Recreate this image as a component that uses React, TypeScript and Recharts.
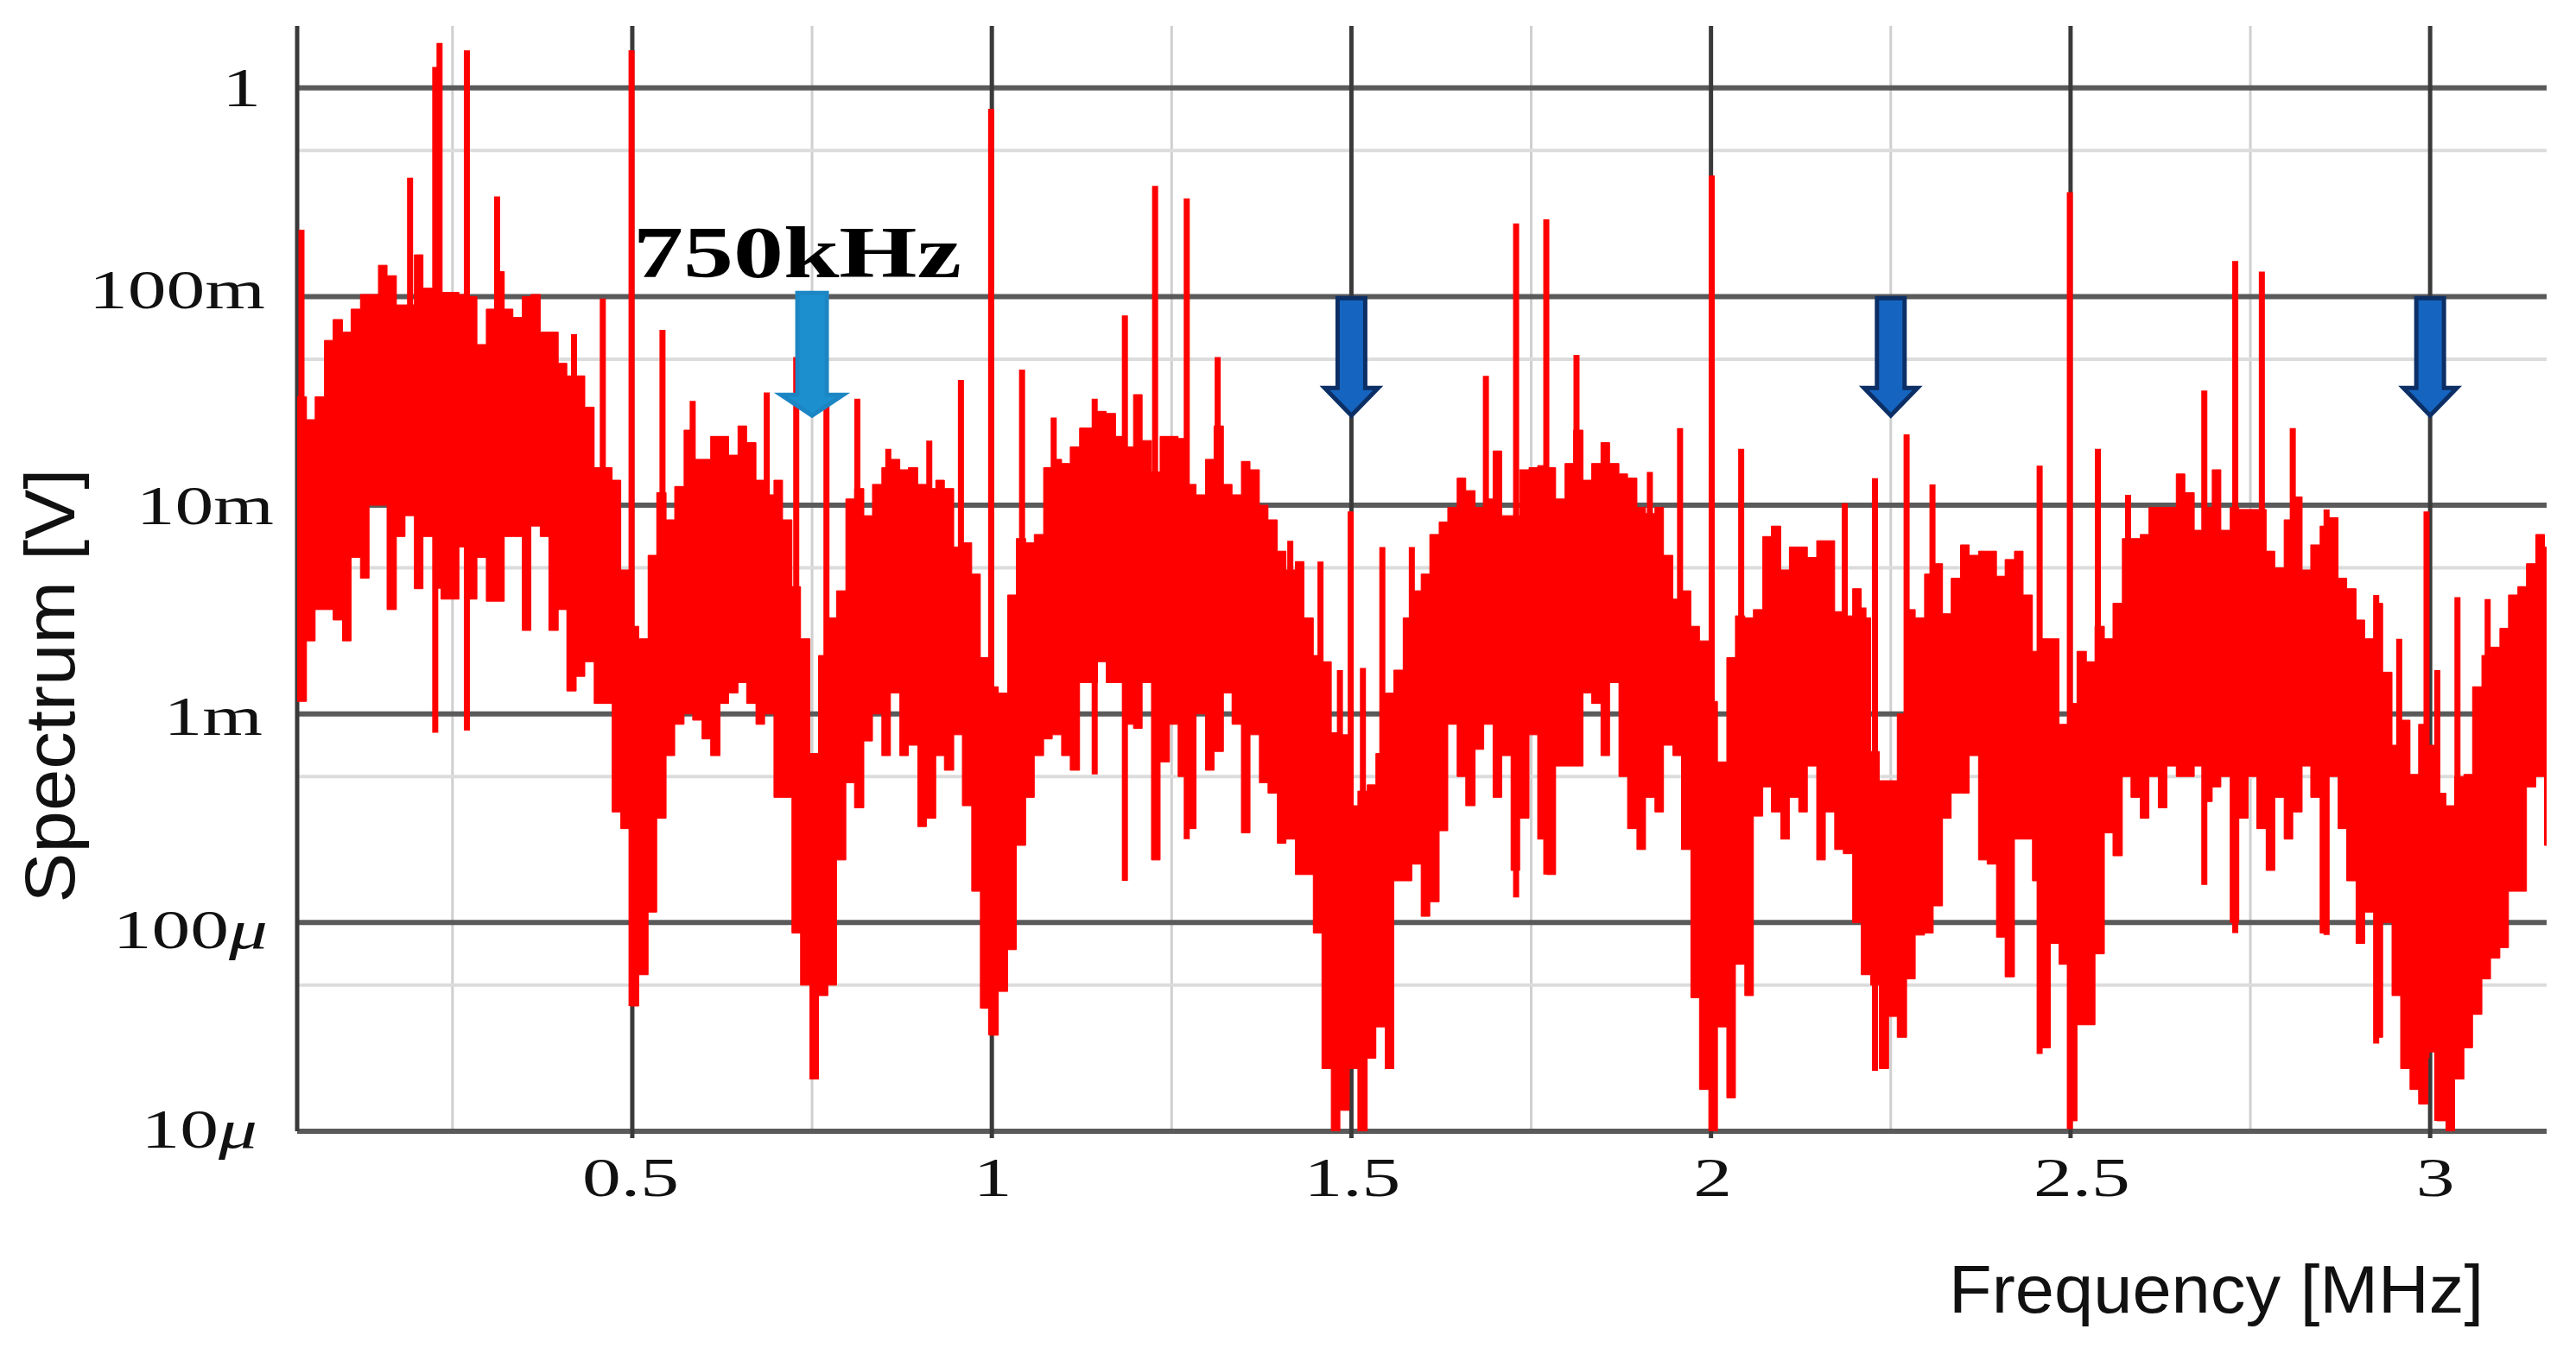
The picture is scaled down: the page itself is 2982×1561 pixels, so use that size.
import { Area, CartesianGrid, ComposedChart, Line, Scatter, XAxis, YAxis } from 'recharts';

// all levels are log10(V): 0 is 1 V, -3 is 1 mV, -5 is 10 uV
const yTicks = [0, -1, -2, -3, -4, -5];
const yTickLabels = ['1', '100m', '10m', '1m', '100μ', '10μ'];
const yMinorLines = [-0.3, -1.3, -2.3, -3.3, -4.3];
const xTicks = [0.5, 1, 1.5, 2, 2.5, 3];
const xTickLabels = ['0.5', '1', '1.5', '2', '2.5', '3'];
const xMajorLines = [0.034, 0.5, 1, 1.5, 2, 2.5, 3];
const xMinorLines = [0.25, 0.75, 1.25, 1.75, 2.25, 2.75];

// noise band, one step per column
const bandFreqs = [
  0.034, 0.047, 0.059, 0.072, 0.084, 0.097, 0.109, 0.122, 0.134, 0.147,
  0.159, 0.172, 0.184, 0.197, 0.209, 0.222, 0.234, 0.247, 0.259, 0.272,
  0.284, 0.297, 0.309, 0.322, 0.334, 0.347, 0.359, 0.372, 0.384, 0.397,
  0.409, 0.422, 0.434, 0.447, 0.459, 0.472, 0.484, 0.497, 0.509, 0.522,
  0.534, 0.547, 0.559, 0.572, 0.584, 0.597, 0.609, 0.622, 0.634, 0.647,
  0.659, 0.672, 0.684, 0.697, 0.709, 0.722, 0.734, 0.747, 0.759, 0.772,
  0.784, 0.797, 0.809, 0.822, 0.834, 0.847, 0.859, 0.872, 0.884, 0.897,
  0.909, 0.922, 0.934, 0.947, 0.959, 0.972, 0.984, 0.997, 1.009, 1.022,
  1.034, 1.047, 1.059, 1.072, 1.084, 1.097, 1.109, 1.122, 1.134, 1.147,
  1.159, 1.172, 1.184, 1.197, 1.209, 1.222, 1.234, 1.247, 1.259, 1.272,
  1.284, 1.297, 1.309, 1.322, 1.334, 1.347, 1.359, 1.372, 1.384, 1.397,
  1.409, 1.422, 1.434, 1.447, 1.459, 1.472, 1.484, 1.497, 1.509, 1.522,
  1.534, 1.547, 1.559, 1.572, 1.584, 1.597, 1.609, 1.622, 1.634, 1.647,
  1.659, 1.672, 1.684, 1.697, 1.709, 1.722, 1.734, 1.747, 1.759, 1.772,
  1.784, 1.797, 1.809, 1.822, 1.834, 1.847, 1.859, 1.872, 1.884, 1.897,
  1.909, 1.922, 1.934, 1.947, 1.959, 1.972, 1.984, 1.997, 2.009, 2.022,
  2.034, 2.047, 2.059, 2.072, 2.084, 2.097, 2.109, 2.122, 2.134, 2.147,
  2.159, 2.172, 2.184, 2.197, 2.209, 2.222, 2.234, 2.247, 2.259, 2.272,
  2.284, 2.297, 2.309, 2.322, 2.334, 2.347, 2.359, 2.372, 2.384, 2.397,
  2.409, 2.422, 2.434, 2.447, 2.459, 2.472, 2.484, 2.497, 2.509, 2.522,
  2.534, 2.547, 2.559, 2.572, 2.584, 2.597, 2.609, 2.622, 2.634, 2.647,
  2.659, 2.672, 2.684, 2.697, 2.709, 2.722, 2.734, 2.747, 2.759, 2.772,
  2.784, 2.797, 2.809, 2.822, 2.834, 2.847, 2.859, 2.872, 2.884, 2.897,
  2.909, 2.922, 2.934, 2.947, 2.959, 2.972, 2.984, 2.997, 3.009, 3.022,
  3.034, 3.047, 3.059, 3.072, 3.084, 3.097, 3.109, 3.122, 3.134, 3.147,
  3.159, 3.162,
];
const bandHighs = [
  -1.48, -1.59, -1.48, -1.21, -1.11, -1.17, -1.06, -0.99, -0.99, -0.85,
  -0.9, -1.04, -1.04, -0.8, -0.96, -1.17, -0.98, -0.98, -0.99, -1.0,
  -1.23, -1.06, -0.88, -1.06, -1.1, -1.0, -0.99, -1.17, -1.17, -1.32,
  -1.38, -1.38, -1.53, -1.82, -1.82, -1.88, -2.31, -2.58, -2.64, -2.24,
  -1.94, -2.07, -1.91, -1.64, -1.78, -1.78, -1.67, -1.67, -1.76, -1.62,
  -1.7, -1.88, -1.95, -1.88, -2.07, -2.39, -2.64, -3.19, -2.72, -2.54,
  -2.41, -1.97, -1.92, -2.05, -1.9, -1.82, -1.78, -1.83, -1.82, -1.9,
  -1.92, -1.88, -1.92, -2.2, -2.18, -2.33, -2.73, -2.87, -2.9, -2.43,
  -2.16, -2.18, -2.14, -1.82, -1.78, -1.8, -1.72, -1.63, -1.63, -1.55,
  -1.56, -1.67, -1.72, -1.47, -1.69, -1.84, -1.67, -1.67, -1.68, -1.9,
  -1.95, -1.78, -1.62, -1.9, -1.95, -1.79, -1.83, -2.0, -2.07, -2.22,
  -2.31, -2.27, -2.54, -2.72, -2.75, -3.09, -3.1, -3.44, -3.37, -3.34,
  -3.19, -2.9, -2.79, -2.54, -2.41, -2.33, -2.14, -2.08, -2.01, -1.87,
  -1.93, -2.01, -1.97, -1.74, -2.05, -2.05, -1.83, -1.82, -1.81, -1.82,
  -1.97, -1.8, -1.64, -1.88, -1.8, -1.7, -1.8, -1.85, -1.87, -2.01,
  -2.04, -2.01, -2.24, -2.45, -2.41, -2.58, -2.65, -2.94, -3.23, -2.73,
  -2.53, -2.54, -2.5, -2.15, -2.1, -2.31, -2.2, -2.2, -2.25, -2.17,
  -2.17, -2.51, -2.53, -2.4, -2.54, -3.18, -3.32, -3.32, -3.0, -2.5,
  -2.54, -2.33, -2.28, -2.52, -2.35, -2.19, -2.24, -2.22, -2.22, -2.34,
  -2.26, -2.22, -2.43, -2.7, -2.64, -2.64, -3.05, -2.95, -2.7, -2.75,
  -2.58, -2.64, -2.47, -2.16, -2.16, -2.14, -2.01, -2.01, -2.01, -1.85,
  -1.94, -2.12, -2.01, -1.83, -2.12, -2.01, -2.02, -2.02, -2.02, -2.22,
  -2.3, -2.07, -1.96, -2.31, -2.19, -2.1, -2.06, -2.35, -2.4, -2.55,
  -2.64, -2.47, -2.8, -3.15, -3.03, -3.29, -3.05, -3.15, -3.38, -3.44,
  -3.3, -3.29, -2.87, -2.72, -2.68, -2.59, -2.43, -2.39, -2.28, -2.14,
  -2.2, -2.2,
];
const bandLows = [
  -2.94, -2.65, -2.5, -2.5, -2.55, -2.65, -2.25, -2.35, -2.0, -2.0,
  -2.5, -2.15, -2.05, -2.4, -2.15, -2.15, -2.45, -2.45, -2.2, -2.45,
  -2.25, -2.46, -2.46, -2.15, -2.15, -2.6, -2.1, -2.15, -2.6, -2.5,
  -2.89, -2.82, -2.75, -2.95, -2.95, -3.47, -3.55, -4.4, -4.25, -3.95,
  -3.5, -3.2, -3.05, -3.0, -3.03, -3.12, -3.2, -2.95, -2.9, -2.85,
  -2.95, -3.05, -3.0, -3.4, -3.4, -4.05, -4.3, -4.75, -4.35, -4.3,
  -3.7, -3.33, -3.45, -3.13, -3.0, -3.2, -2.9, -3.2, -3.15, -3.54,
  -3.5, -3.2, -3.27, -3.1, -3.44, -3.85, -4.41, -4.54, -4.33, -4.13,
  -3.63, -3.4, -3.2, -3.12, -3.1, -3.2, -3.27, -2.85, -2.85, -2.75,
  -2.85, -2.85, -3.05, -3.07, -2.85, -3.7, -3.23, -3.05, -3.3, -3.55,
  -3.0, -3.27, -3.18, -2.9, -3.05, -3.57, -3.1, -3.33, -3.38, -3.62,
  -3.6, -3.77, -3.77, -4.05, -4.7, -5.0, -4.9, -4.7, -5.0, -4.65,
  -4.5, -4.7, -3.8, -3.8, -3.72, -3.97, -3.9, -3.56, -3.05, -3.3,
  -3.44, -3.17, -3.05, -3.4, -3.2, -3.75, -3.5, -3.1, -3.6, -3.77,
  -3.25, -3.25, -3.25, -2.9, -2.95, -3.2, -2.85, -3.3, -3.55, -3.65,
  -3.4, -3.47, -3.15, -3.2, -3.65, -4.36, -4.8, -5.0, -4.5, -4.84,
  -4.2, -4.35, -3.49, -3.35, -3.47, -3.6, -3.4, -3.47, -3.25, -3.7,
  -3.47, -3.65, -3.67, -4.0, -4.25, -4.3, -4.7, -4.45, -4.55, -4.27,
  -4.06, -4.05, -3.92, -3.5, -3.38, -3.38, -3.2, -3.7, -3.72, -4.07,
  -4.26, -3.6, -3.6, -3.8, -4.6, -4.1, -4.2, -4.95, -4.49, -4.49,
  -4.15, -3.57, -3.68, -3.3, -3.4, -3.5, -3.3, -3.45, -3.25, -3.3,
  -3.3, -3.25, -3.42, -3.35, -3.3, -4.0, -3.5, -3.3, -3.55, -3.75,
  -3.4, -3.6, -3.47, -3.25, -3.4, -4.05, -3.3, -3.55, -3.8, -4.1,
  -3.95, -4.55, -4.0, -4.35, -4.7, -4.8, -4.87, -4.62, -4.95, -5.0,
  -4.75, -4.6, -4.44, -4.27, -4.17, -4.12, -3.85, -3.85, -3.35, -3.3,
  -3.63, -3.63,
];

// narrow harmonics standing out of the band
const spikeFreqs = [
  0.04, 0.191, 0.226, 0.232, 0.27, 0.312, 0.419, 0.459, 0.499, 0.542, 0.584, 0.687, 0.728, 0.77, 0.813,
  0.856, 0.913, 0.957, 0.999, 1.042, 1.086, 1.143, 1.185, 1.227, 1.271, 1.314, 1.415, 1.457, 1.484, 1.499,
  1.516, 1.543, 1.584, 1.687, 1.729, 1.771, 1.813, 1.915, 1.957, 2.001, 2.042, 2.186, 2.228, 2.272, 2.308,
  2.457, 2.499, 2.538, 2.58, 2.686, 2.729, 2.766, 2.809, 2.856, 2.925, 2.957, 2.995, 3.038, 3.08,
  2.212, 3.01,
];
const spikeTops = [
  -0.68, -0.43, 0.1, 0.215, 0.18, -0.52, -1.18, -1.01, 0.18, -1.16, -1.5, -1.46, -1.29, -1.48, -1.49,
  -1.73, -1.69, -1.4, -0.1, -1.35, -1.58, -1.49, -1.09, -0.47, -0.53, -1.29, -2.17, -2.27, -2.79, -2.03,
  -2.78, -2.2, -2.2, -1.38, -0.65, -0.63, -1.28, -1.84, -1.63, -0.42, -1.73, -1.99, -1.87, -1.66, -1.9,
  -1.81, -0.5, -1.73, -1.95, -1.45, -0.83, -0.88, -1.63, -2.02, -2.43, -2.64, -2.03, -2.44, -2.45,
  -2.49, -2.79,
];
const spikeFloors = [
  -2.0, -2.0, -3.09, -2.4, -3.08, -2.2, -2.0, -2.4, -4.4, -2.4, -2.5, -2.5, -3.0, -3.0, -2.5,
  -2.5, -2.5, -2.5, -4.54, -2.5, -2.5, -3.29, -3.8, -3.0, -3.6, -2.5, -3.57, -3.0, -3.5, -4.6,
  -3.5, -3.5, -3.5, -2.5, -3.88, -3.77, -2.5, -3.0, -3.0, -5.0, -3.0, -3.2, -4.71, -3.2, -3.0,
  -4.63, -4.99, -3.0, -3.0, -3.82, -4.05, -3.0, -3.0, -4.06, -4.58, -3.5, -4.65, -3.5, -3.5,
  -3.2, -4.95,
];

const arrowFreqsDark = [1.5, 2.25, 3];
const arrowFreqsLight = [0.75];
const arrowTipLevel = -1.57;

const RED = '#ff0000';

const bandRows = bandFreqs.map((f, i) => ({ f, band: [bandLows[i], bandHighs[i]] }));
// null rows break the line so each spike stays its own stroke
const spikeRows = spikeFreqs.flatMap((f, i) => [
  { f, v: spikeFloors[i] },
  { f, v: spikeTops[i] },
  { f, v: null },
]);
const darkArrowRows = arrowFreqsDark.map((f) => ({ f, v: arrowTipLevel }));
const lightArrowRows = arrowFreqsLight.map((f) => ({ f, v: arrowTipLevel }));

const yLabelRight = [302, 307, 317, 304, 310, 298];
const yLabelDrop = [21, 14, 22, 24, 30, 19];
const xLabelShift = [-2, 1, 1, 2, 13, 6];

function YTick({ y, payload }: any) {
  const i = Math.round(-payload.value);
  const label = yTickLabels[i];
  const micro = label.endsWith('μ');
  return (
    <text
      transform={`translate(${yLabelRight[i]},${y + yLabelDrop[i]}) scale(1.4,1)`}
      textAnchor="end"
      fontFamily="'Liberation Serif', serif"
      fontSize={64}
      fill="#111"
    >
      {micro ? label.slice(0, -1) : label}
      {micro && <tspan fontStyle="italic">μ</tspan>}
    </text>
  );
}

function XTick({ x, y, index }: any) {
  return (
    <text
      transform={`translate(${x + xLabelShift[index]},${y + 67}) scale(1.4,1)`}
      textAnchor="middle"
      fontFamily="'Liberation Serif', serif"
      fontSize={64}
      fill="#111"
    >
      {xTickLabels[index]}
    </text>
  );
}

function Arrow({ cx, cy, fill, stroke, top, shaft, head, headAt }: any) {
  const points = [
    [cx - shaft, cy - top],
    [cx + shaft, cy - top],
    [cx + shaft, cy - headAt],
    [cx + head, cy - headAt],
    [cx, cy],
    [cx - head, cy - headAt],
    [cx - shaft, cy - headAt],
  ];
  return <polygon points={points.map((p) => p.join(',')).join(' ')} fill={fill} stroke={stroke} strokeWidth={5} />;
}

export default function App() {
  return (
    <div style={{ position: 'absolute', left: 0, top: 0, width: 2982, height: 1561, background: '#fff' }}>
      <ComposedChart width={2982} height={1561} margin={{ top: 30, right: 34, bottom: 0, left: 0 }} data={bandRows}>
        <CartesianGrid horizontal={false} verticalValues={xMinorLines} stroke="#cfcfcf" strokeWidth={3} />
        <CartesianGrid vertical={false} horizontalValues={yMinorLines} stroke="#dcdcdc" strokeWidth={4} />
        <CartesianGrid vertical={false} horizontalValues={yTicks} stroke="#5a5a5a" strokeWidth={6} />
        <CartesianGrid horizontal={false} verticalValues={xMajorLines} stroke="#3a3a3a" strokeWidth={5} />
        <XAxis
          dataKey="f"
          type="number"
          domain={[0.034, 3.162]}
          allowDataOverflow
          ticks={xTicks}
          interval={0}
          height={251}
          axisLine={false}
          tickSize={8}
          tickMargin={0}
          tickLine={{ stroke: '#3a3a3a', strokeWidth: 5 }}
          tick={<XTick />}
        />
        <YAxis
          type="number"
          domain={[-5, 0.297]}
          allowDataOverflow
          ticks={yTicks}
          interval={0}
          width={344}
          axisLine={false}
          tickLine={false}
          tick={<YTick />}
        />
        <Area
          data={bandRows}
          dataKey="band"
          type="stepAfter"
          fill={RED}
          fillOpacity={1}
          stroke={RED}
          strokeWidth={1}
          dot={false}
          activeDot={false}
          isAnimationActive={false}
        />
        <Line
          data={spikeRows}
          dataKey="v"
          type="linear"
          stroke={RED}
          strokeWidth={7}
          dot={false}
          activeDot={false}
          connectNulls={false}
          isAnimationActive={false}
        />
        <Scatter
          data={lightArrowRows}
          dataKey="v"
          isAnimationActive={false}
          shape={(p: any) => (
            <Arrow cx={p.cx} cy={p.cy} fill="#1c90cf" stroke="#1c86c4" top={142} shaft={17} head={36} headAt={24} />
          )}
        />
        <Scatter
          data={darkArrowRows}
          dataKey="v"
          isAnimationActive={false}
          shape={(p: any) => (
            <Arrow cx={p.cx} cy={p.cy} fill="#1565c0" stroke="#0c2f66" top={136} shaft={16} head={31} headAt={32} />
          )}
        />
        <text
          x={733}
          y={321}
          fontFamily="'Liberation Serif', serif"
          fontWeight="bold"
          fontSize={85}
          textLength={380}
          lengthAdjust="spacingAndGlyphs"
          fill="#000"
        >
          750kHz
        </text>
        <text
          transform="translate(86,794) rotate(-90)"
          textAnchor="middle"
          fontFamily="'Liberation Sans', sans-serif"
          fontSize={82}
          textLength={503}
          lengthAdjust="spacingAndGlyphs"
          fill="#111"
        >
          Spectrum [V]
        </text>
        <text
          x={2256}
          y={1520}
          fontFamily="'Liberation Sans', sans-serif"
          fontSize={78}
          textLength={619}
          lengthAdjust="spacingAndGlyphs"
          fill="#111"
        >
          Frequency [MHz]
        </text>
      </ComposedChart>
    </div>
  );
}
